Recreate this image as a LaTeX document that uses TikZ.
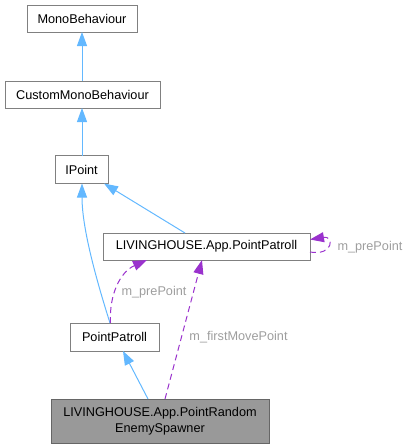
\documentclass[tikz,border=0pt]{standalone}
\usepackage{fontspec}
\setmainfont{Liberation Sans}
\usetikzlibrary{arrows.meta,calc}
\definecolor{edgeblue}{HTML}{63B8FF}
\definecolor{edgepurple}{HTML}{9A32CD}
\definecolor{boxborder}{HTML}{808080}
\definecolor{labelgray}{HTML}{9E9E9E}
\definecolor{focusfill}{HTML}{999999}
\definecolor{focusborder}{HTML}{666666}
\begin{document}
\begin{tikzpicture}[x=1pt,y=-1pt,
  every node/.style={font=\fontsize{12.7}{16}\selectfont, inner sep=0pt, outer sep=0pt},
  cls/.style={draw=boxborder, fill=white, line width=1pt, rectangle, align=center},
  focus/.style={draw=focusborder, fill=focusfill, line width=1pt, rectangle, align=center},
  inh/.style={draw=edgeblue, line width=1pt, -{Triangle[length=14pt,width=10pt]}},
  dep/.style={draw=edgepurple, line width=1pt, dash pattern=on 6pt off 4pt, -{Triangle[length=14pt,width=10pt]}},
  elabel/.style={text=labelgray}
]
\useasboundingbox (0,0) rectangle (409,448);

\node[cls, minimum width=110pt, minimum height=27pt] (mono) at (82,18.5) {MonoBehaviour};
\node[cls, minimum width=155pt, minimum height=27pt] (custom) at (82.5,94.5) {CustomMonoBehaviour};
\node[cls, minimum width=53pt, minimum height=28pt] (ipoint) at (81.5,169.5) {IPoint};
\node[cls, minimum width=207pt, minimum height=27pt] (lpp) at (206.5,246.5) {LIVINGHOUSE.App.PointPatroll};
\node[cls, minimum width=89pt, minimum height=28pt] (pp) at (114.5,337) {PointPatroll};
\node[focus, minimum width=218pt, minimum height=44pt] (spawner) at (160,421) {LIVINGHOUSE.App.PointRandom\\EnemySpawner};

% inheritance
\draw[inh] (mono.south |- custom.north) -- (mono.south);
\draw[inh] (mono.south |- ipoint.north) -- (mono.south |- custom.south);
\draw[inh] ($(lpp.north)+(-21.5,0)$) -- ($(ipoint.south east)+(-4,0)$);
\draw[inh] ($(pp.north)+(-4.5,0)$) .. controls (98,285) and (82,230) .. (mono.south |- ipoint.south);
\draw[inh] ($(spawner.north)+(-12,0)$) -- ($(pp.south)+(8.5,0)$);

% usage
\draw[dep] ($(pp.north)+(-4,0)$) .. controls (109,295) and (120,272) .. ($(lpp.south)+(-59.5,0)$);
\node[elabel] (lblpre) at (154,292) {m\_prePoint};
\draw[dep] ($(spawner.north)+(5,0)$) -- ($(lpp.south)+(-4.5,0)$);
\node[elabel] (lblfirst) at (238.5,337) {m\_firstMovePoint};
\draw[dep] ($(lpp.east)+(0,5.5)$) .. controls +(24,4) and +(24,-4) .. ($(lpp.east)+(0,-7)$);
\node[elabel, anchor=west] (lblself) at (337.5,247) {m\_prePoint};
\end{tikzpicture}
\end{document}
